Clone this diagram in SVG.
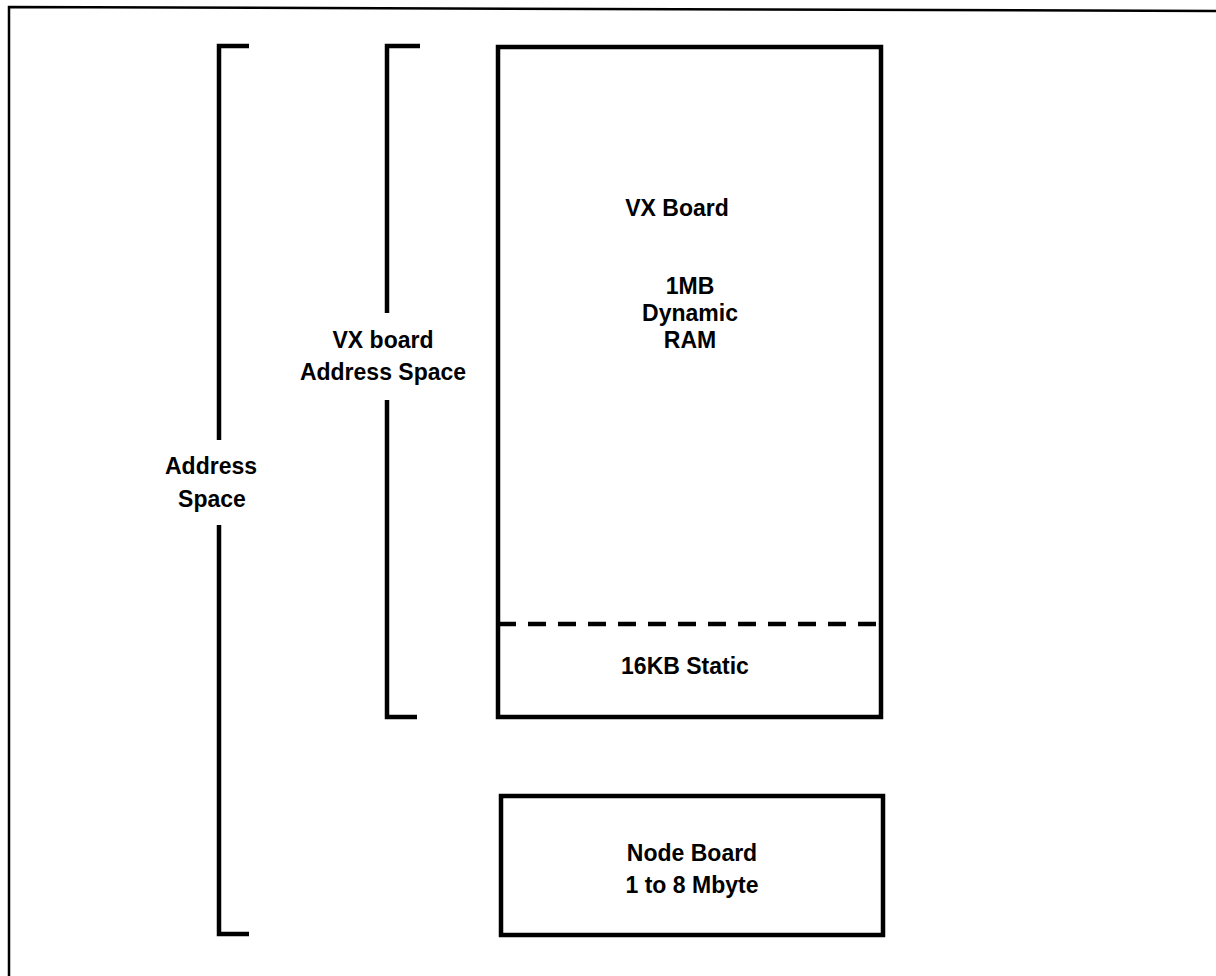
<svg xmlns="http://www.w3.org/2000/svg" width="1216" height="976" viewBox="0 0 1216 976">
<style>
.ln{fill:none;stroke:#000;stroke-width:4.5;stroke-linecap:butt}
.fr{fill:none;stroke:#000;stroke-width:2.5}
.t{font-family:"Liberation Sans",Arial,sans-serif;font-weight:bold;font-size:23px;fill:#000;text-anchor:middle}
</style>
<rect width="1216" height="976" fill="#fff"/>
<g id="frame"><path class="fr" d="M9,976 V7 L1216,11"/></g>
<g id="address-space">
<path class="ln" d="M249,46 H219 V440 M219,525 V934 H249"/>
<text class="t" x="211" y="474">Address</text>
<text class="t" x="212" y="507">Space</text>
</g>
<g id="vx-address-space">
<path class="ln" d="M420,46 H387 V313 M387,400 V717 H417"/>
<text class="t" x="383" y="348">VX board</text>
<text class="t" x="383" y="380">Address Space</text>
</g>
<g id="vx-board">
<rect class="ln" x="498" y="47" width="383" height="670"/>
<line class="ln" x1="498" y1="624" x2="881" y2="624" stroke-dasharray="18 12"/>
<text class="t" x="677" y="216">VX Board</text>
<text class="t" x="690" y="294">1MB</text>
<text class="t" x="690" y="321">Dynamic</text>
<text class="t" x="690" y="348">RAM</text>
<text class="t" x="685" y="674">16KB Static</text>
</g>
<g id="node-board">
<rect class="ln" x="501" y="796" width="382" height="139"/>
<text class="t" x="692" y="861">Node Board</text>
<text class="t" x="692" y="893">1 to 8 Mbyte</text>
</g>
<g id="connectors"></g>
</svg>
